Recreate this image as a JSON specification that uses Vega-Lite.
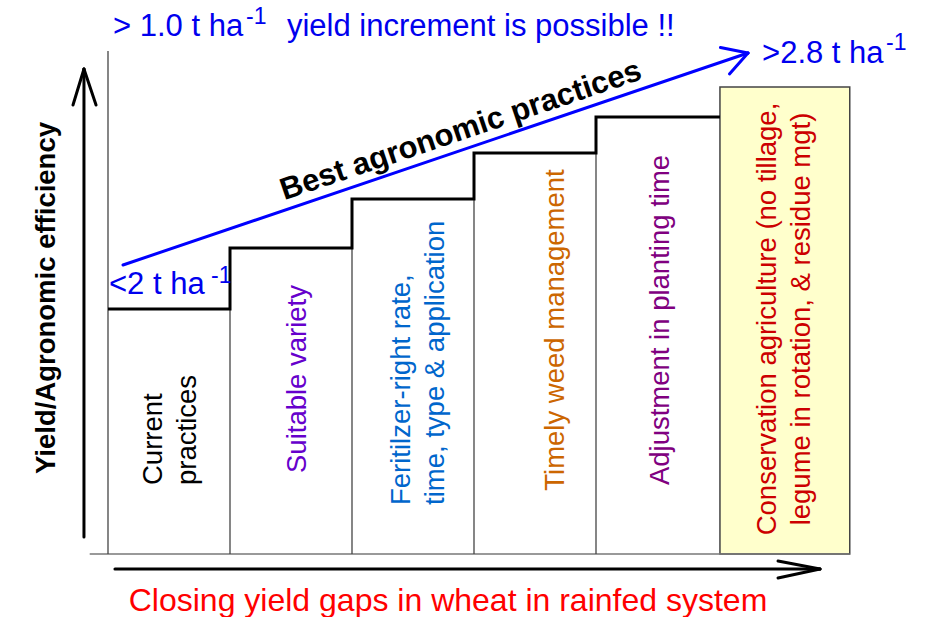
{
  "$schema": "https://vega.github.io/schema/vega-lite/v6.json",
  "width": 930,
  "height": 617,
  "autosize": {"type": "fit", "contains": "padding"},
  "padding": 0,
  "background": "white",
  "config": {"view": {"stroke": null}, "font": "Liberation Sans"},
  "datasets": {
    "levels": [
      {"stage": 0, "level": 2.45},
      {"stage": 1, "level": 3.06},
      {"stage": 2, "level": 3.55},
      {"stage": 3, "level": 4.01},
      {"stage": 4, "level": 4.37},
      {"stage": 5.016, "level": 4.37}
    ],
    "dividers": [
      {"x": 0, "y": 0, "y2": 5.03},
      {"x": 1, "y": 0, "y2": 3.06},
      {"x": 2, "y": 0, "y2": 3.55},
      {"x": 3, "y": 0, "y2": 4.01},
      {"x": 4, "y": 0, "y2": 4.37}
    ],
    "baseline": [{"x": -0.15, "x2": 6.08, "y": 0}],
    "box": [{"x": 5.016, "x2": 6.08, "y": 0, "y2": 4.67}],
    "black_arrows": [
      {"arrow": "yield", "x": -0.197, "y": 0.17, "x2": -0.197, "y2": 4.85},
      {"arrow": "yield", "x": -0.197, "y": 4.85, "x2": -0.287, "y2": 4.49},
      {"arrow": "yield", "x": -0.197, "y": 4.85, "x2": -0.098, "y2": 4.49},
      {"arrow": "gap", "x": 0.057, "y": -0.15, "x2": 5.836, "y2": -0.15},
      {"arrow": "gap", "x": 5.836, "y": -0.15, "x2": 5.492, "y2": -0.07},
      {"arrow": "gap", "x": 5.836, "y": -0.15, "x2": 5.492, "y2": -0.24}
    ],
    "blue_arrow": [
      {"arrow": "best", "x": 0.123, "y": 2.89, "x2": 5.246, "y2": 5.01},
      {"arrow": "best", "x": 5.246, "y": 5.01, "x2": 5.02, "y2": 5.065},
      {"arrow": "best", "x": 5.246, "y": 5.01, "x2": 5.094, "y2": 4.8}
    ],
    "labels_left": [
      {"practice": "Current practices", "label": "Current\npractices", "x": 0.4426, "y": 0.69},
      {"practice": "Fertilizer", "label": "Feritilzer-right rate,\ntime, type & application", "x": 2.4754, "y": 0.49}
    ],
    "labels_center": [
      {"practice": "Suitable variety", "label": "Suitable variety", "x": 1.623, "y": 1.75},
      {"practice": "Timely weed management", "label": "Timely weed management", "x": 3.7377, "y": 2.24},
      {"practice": "Adjustment in planting time", "label": "Adjustment in planting time", "x": 4.5984, "y": 2.34},
      {"practice": "Conservation agriculture", "label": "Conservation agriculture (no tillage,\nlegume in rotation, & residue mgt)", "x": 5.4795, "y": 2.35}
    ],
    "blue_main": [
      {"label": "> 1.0 t ha", "x": 0.041, "y": 5.18},
      {"label": "yield increment is possible !!", "x": 1.467, "y": 5.18},
      {"label": ">2.8 t ha", "x": 5.361, "y": 4.91},
      {"label": "<2 t ha", "x": 0.008, "y": 2.6}
    ],
    "blue_sup": [
      {"label": "-1", "x": 1.131, "y": 5.3},
      {"label": "-1", "x": 6.377, "y": 5.04},
      {"label": "-1", "x": 0.844, "y": 2.71}
    ],
    "ytitle": [{"label": "Yield/Agronomic efficiency", "x": -0.4344, "y": 2.56}],
    "xtitle": [{"label": "Closing yield gaps in wheat in rainfed system", "x": 2.787, "y": -0.57}],
    "best": [{"label": "Best agronomic practices", "x": 2.893, "y": 4.23}]
  },
  "layer": [
    {
      "data": {"name": "box"},
      "mark": {"type": "rect", "fill": "#FFFFCC", "stroke": "#444444", "strokeWidth": 1.5},
      "encoding": {
        "x": {"field": "x", "type": "quantitative", "scale": {"domain": [-0.88525, 6.7377], "nice": false, "zero": false}, "axis": null},
        "x2": {"field": "x2"},
        "y": {"field": "y", "type": "quantitative", "scale": {"domain": [-0.63, 5.54], "nice": false, "zero": false}, "axis": null},
        "y2": {"field": "y2"}
      }
    },
    {
      "data": {"name": "baseline"},
      "mark": {"type": "rule", "stroke": "#777777", "strokeWidth": 1.5},
      "encoding": {
        "x": {"field": "x", "type": "quantitative"},
        "x2": {"field": "x2"},
        "y": {"field": "y", "type": "quantitative"}
      }
    },
    {
      "data": {"name": "dividers"},
      "mark": {"type": "rule", "stroke": "#444444", "strokeWidth": 1.3},
      "encoding": {
        "x": {"field": "x", "type": "quantitative"},
        "y": {"field": "y", "type": "quantitative"},
        "y2": {"field": "y2"}
      }
    },
    {
      "data": {"name": "levels"},
      "mark": {"type": "line", "interpolate": "step-after", "stroke": "black", "strokeWidth": 3},
      "encoding": {
        "x": {"field": "stage", "type": "quantitative"},
        "y": {"field": "level", "type": "quantitative"}
      }
    },
    {
      "data": {"name": "black_arrows"},
      "mark": {"type": "rule", "strokeWidth": 3, "strokeCap": "round", "stroke": "#000000"},
      "encoding": {
        "x": {"field": "x", "type": "quantitative"},
        "y": {"field": "y", "type": "quantitative"},
        "x2": {"field": "x2"},
        "y2": {"field": "y2"}
      }
    },
    {
      "data": {"name": "blue_arrow"},
      "mark": {"type": "rule", "strokeWidth": 3, "strokeCap": "round", "stroke": "#0000FF"},
      "encoding": {
        "x": {"field": "x", "type": "quantitative"},
        "y": {"field": "y", "type": "quantitative"},
        "x2": {"field": "x2"},
        "y2": {"field": "y2"}
      }
    },
    {
      "data": {"name": "labels_left"},
      "mark": {"type": "text", "angle": 270, "align": "left", "baseline": "alphabetic", "fontSize": 27.5, "lineHeight": 34, "lineBreak": "\n"},
      "encoding": {
        "x": {"field": "x", "type": "quantitative"},
        "y": {"field": "y", "type": "quantitative"},
        "text": {"field": "label"},
        "color": {"field": "practice", "type": "nominal", "scale": {"domain": ["Current practices", "Suitable variety", "Fertilizer", "Timely weed management", "Adjustment in planting time", "Conservation agriculture"], "range": ["#000000", "#6600CC", "#0066CC", "#CC6600", "#800080", "#CC0000"]}, "legend": null}
      }
    },
    {
      "data": {"name": "labels_center"},
      "mark": {"type": "text", "angle": 270, "align": "center", "baseline": "alphabetic", "fontSize": 27.5, "lineHeight": 34, "lineBreak": "\n"},
      "encoding": {
        "x": {"field": "x", "type": "quantitative"},
        "y": {"field": "y", "type": "quantitative"},
        "text": {"field": "label"},
        "color": {"field": "practice", "type": "nominal", "scale": {"domain": ["Current practices", "Suitable variety", "Fertilizer", "Timely weed management", "Adjustment in planting time", "Conservation agriculture"], "range": ["#000000", "#6600CC", "#0066CC", "#CC6600", "#800080", "#CC0000"]}, "legend": null}
      }
    },
    {
      "data": {"name": "blue_main"},
      "mark": {"type": "text", "align": "left", "baseline": "alphabetic", "fontSize": 31, "color": "#0000EE"},
      "encoding": {
        "x": {"field": "x", "type": "quantitative"},
        "y": {"field": "y", "type": "quantitative"},
        "text": {"field": "label"}
      }
    },
    {
      "data": {"name": "blue_sup"},
      "mark": {"type": "text", "align": "left", "baseline": "alphabetic", "fontSize": 23, "color": "#0000EE"},
      "encoding": {
        "x": {"field": "x", "type": "quantitative"},
        "y": {"field": "y", "type": "quantitative"},
        "text": {"field": "label"}
      }
    },
    {
      "data": {"name": "ytitle"},
      "mark": {"type": "text", "angle": 270, "align": "center", "baseline": "alphabetic", "fontSize": 27.5, "fontWeight": "bold", "color": "black"},
      "encoding": {
        "x": {"field": "x", "type": "quantitative"},
        "y": {"field": "y", "type": "quantitative"},
        "text": {"field": "label"}
      }
    },
    {
      "data": {"name": "xtitle"},
      "mark": {"type": "text", "align": "center", "baseline": "alphabetic", "fontSize": 32, "color": "#FF0000"},
      "encoding": {
        "x": {"field": "x", "type": "quantitative"},
        "y": {"field": "y", "type": "quantitative"},
        "text": {"field": "label"}
      }
    },
    {
      "data": {"name": "best"},
      "mark": {"type": "text", "align": "center", "baseline": "middle", "angle": -18.7, "fontSize": 31, "fontWeight": "bold", "color": "black"},
      "encoding": {
        "x": {"field": "x", "type": "quantitative"},
        "y": {"field": "y", "type": "quantitative"},
        "text": {"field": "label"}
      }
    }
  ]
}
